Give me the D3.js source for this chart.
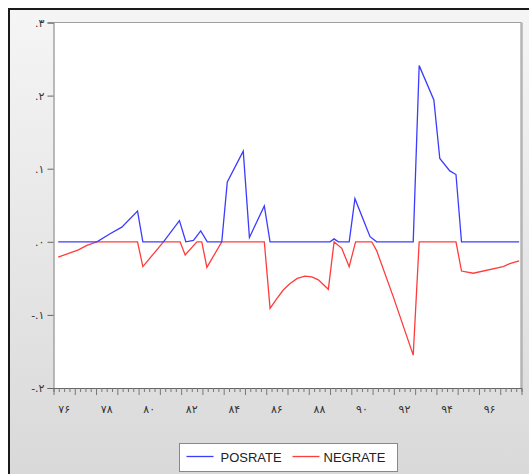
<!DOCTYPE html>
<html>
<head>
<meta charset="utf-8">
<script src="https://cdn.jsdelivr.net/npm/d3@7"></script>
<style>
  body { margin: 0; background: #fff; }
  svg { display: block; }
  .tick text { font-family: "DejaVu Sans", sans-serif; fill: #333; }
</style>
</head>
<body>
<div id="chart"></div>
<script>
// quarterly series 1376-1397, kink points (year, value)
var posTime = [76.22, 78.04, 78.66, 79.21, 79.95, 80.20, 81.17, 81.92, 82.22, 82.58, 82.92, 83.23,
  83.91, 84.17, 84.92, 85.21, 85.91, 86.18, 89.00, 89.19, 89.39, 89.90, 90.17, 90.88, 91.19,
  92.91, 93.19, 93.88, 94.16, 94.63, 94.92, 95.18, 97.89]
var posValue = [0, 0, 0.011, 0.020, 0.042, 0, 0, 0.029, 0, 0.002, 0.015, 0,
  0, 0.082, 0.124, 0.006, 0.049, 0, 0, 0.004, 0, 0, 0.059, 0.007, 0,
  0, 0.241, 0.194, 0.114, 0.097, 0.092, 0, 0]

var negTime = [76.22, 77.17, 77.57, 78.04, 79.95, 80.20, 81.17, 81.95, 82.19, 82.74, 82.97, 83.21,
  83.91, 85.91, 86.18, 86.49, 86.80, 87.12, 87.46, 87.82, 88.14, 88.45, 88.92, 89.19, 89.55,
  89.90, 90.20, 90.96, 91.19, 91.97, 92.91, 93.19, 94.92, 95.18, 95.73, 97.14, 97.45, 97.89]
var negValue = [-0.021, -0.011, -0.005, 0, 0, -0.034, 0, 0, -0.018, 0, 0, -0.035,
  0, 0, -0.091, -0.078, -0.066, -0.057, -0.050, -0.047, -0.048, -0.052, -0.065, 0, -0.009,
  -0.034, 0, 0, -0.012, -0.075, -0.155, 0, 0, -0.040, -0.043, -0.034, -0.030, -0.026]

var yTicks = [0.3, 0.2, 0.1, 0, -0.1, -0.2]
var yLabels = [".۳", ".۲", ".۱", ".۰", "-.۱", "-.۲"]
var xYears = [76, 78, 80, 82, 84, 86, 88, 90, 92, 94, 96]
var xLabels = ["۷۶", "۷۸", "۸۰", "۸۲", "۸۴", "۸۶", "۸۸", "۹۰", "۹۲", "۹۴", "۹۶"]

var seriesNames = ["POSRATE", "NEGRATE"]
var seriesColors = ["#3c3cff", "#ff3c3c"]

var W = 529, H = 474
var margin = { top: 22.5, left: 53.5, right: 7.5, bottom: 86 },
  width = W - margin.left - margin.right,
  height = H - margin.top - margin.bottom

var svg = d3.select("#chart")
  .append("svg")
  .attr("width", W)
  .attr("height", H)

// grey panel background
var grad = svg.append("defs").append("linearGradient")
  .attr("id", "bg")
  .attr("x1", 0).attr("y1", 0).attr("x2", 0).attr("y2", 1)
grad.append("stop").attr("offset", "0%").attr("stop-color", "#f5f5f5")
grad.append("stop").attr("offset", "100%").attr("stop-color", "#d9d9d9")

svg.append("rect")
  .attr("x", 9).attr("y", 9)
  .attr("width", W - 9).attr("height", H - 9)
  .style("fill", "url(#bg)")

svg.append("line")
  .attr("x1", 8).attr("x2", W).attr("y1", 9).attr("y2", 9)
  .style("stroke", "#1a1a1a").style("stroke-width", 2)
svg.append("line")
  .attr("x1", 9).attr("x2", 9).attr("y1", 8).attr("y2", H)
  .style("stroke", "#1a1a1a").style("stroke-width", 2)

var g = svg.append("g")
  .attr("transform", "translate(" + margin.left + "," + margin.top + ")")

var x = d3.scaleLinear()
  .domain([76, 98])
  .range([0, width])

var y = d3.scaleLinear()
  .domain([-0.2, 0.3])
  .range([height, 0])

g.append("rect")
  .attr("width", width)
  .attr("height", height)
  .style("fill", "white")

// top and right frame
g.append("line")
  .attr("x1", 0).attr("x2", width).attr("y1", 0).attr("y2", 0)
  .style("stroke", "#a0a0a0")
g.append("line")
  .attr("x1", width).attr("x2", width).attr("y1", 0).attr("y2", height)
  .style("stroke", "#b4b4b4").style("stroke-width", 2.5)

// y axis
var yAxis = g.append("g")
  .call(d3.axisLeft(y)
    .tickValues(yTicks)
    .tickSize(6)
    .tickPadding(3)
    .tickFormat(function(d, i) { return yLabels[i] }))
yAxis.selectAll("text").style("font-size", "11px").attr("direction", "ltr")
yAxis.select(".domain").style("stroke", "#777")
yAxis.selectAll(".tick line").style("stroke", "#666")

// x axis: quarter ticks, year ticks longer, labels centred in year
var quarters = d3.range(76, 98.01, 0.25)
var xAxis = g.append("g")
  .attr("transform", "translate(0," + height + ")")
  .call(d3.axisBottom(x)
    .tickValues(quarters)
    .tickSize(4)
    .tickFormat(""))
xAxis.select(".domain").style("stroke", "#666")
xAxis.selectAll(".tick line")
  .style("stroke", "#777")
  .attr("y2", function(d) { return Math.abs(d - Math.round(d)) < 0.01 ? 7 : 4 })

var xText = g.append("g")
  .attr("transform", "translate(0," + height + ")")
xText.selectAll("text")
  .data(xYears)
  .enter().append("text")
  .attr("x", function(d) { return x(d + 0.5) })
  .attr("y", 25)
  .attr("text-anchor", "middle")
  .style("font-family", "DejaVu Sans, sans-serif")
  .style("font-size", "11px")
  .style("fill", "#333")
  .text(function(d, i) { return xLabels[i] })

var line = d3.line()
  .x(function(d) { return x(d[0]) })
  .y(function(d) { return y(d[1]) })

var pos = posTime.map(function(t, i) { return [t, posValue[i]] })
var neg = negTime.map(function(t, i) { return [t, negValue[i]] })

g.append("path")
  .datum(neg)
  .attr("d", line)
  .style("fill", "none")
  .style("stroke", seriesColors[1])
  .style("stroke-width", 1.3)

g.append("path")
  .datum(pos)
  .attr("d", line)
  .style("fill", "none")
  .style("stroke", seriesColors[0])
  .style("stroke-width", 1.3)

// legend
var legend = svg.append("g")
  .attr("transform", "translate(179.5,443.5)")
legend.append("rect")
  .attr("width", 218)
  .attr("height", 28)
  .style("fill", "white")
  .style("stroke", "#888")

var items = [{ x: 7, tx: 41 }, { x: 113, tx: 144 }]
items.forEach(function(it, i) {
  legend.append("line")
    .attr("x1", it.x).attr("x2", it.x + 27)
    .attr("y1", 13).attr("y2", 13)
    .style("stroke", seriesColors[i])
    .style("stroke-width", 1.3)
  legend.append("text")
    .attr("x", it.tx)
    .attr("y", 18)
    .style("font-family", "Liberation Sans, Arial, sans-serif")
    .style("font-size", "13px")
    .style("fill", "#222")
    .text(seriesNames[i])
})
</script>
</body>
</html>
